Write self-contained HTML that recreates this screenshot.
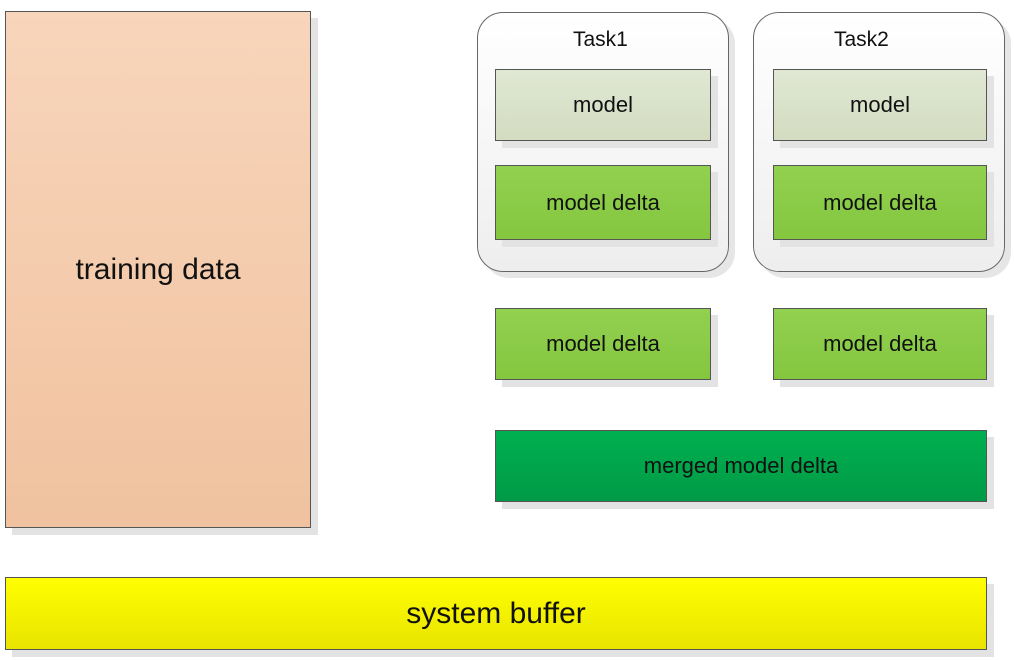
<!DOCTYPE html>
<html><head><style>
body{margin:0;width:1014px;height:660px;background:#fff;position:relative;overflow:hidden;font-family:"Liberation Sans",sans-serif;}
.b{position:absolute;box-sizing:border-box;border:1px solid #555;display:flex;align-items:center;justify-content:center;color:#111;box-shadow:7px 7px 0 #e3e3e3;}
.c{position:absolute;box-sizing:border-box;border:1px solid #666;border-radius:26px;background:linear-gradient(#fff,#eeeeee);box-shadow:6px 6px 0 #e6e6e6;}
.t{position:absolute;font-size:21px;color:#111;}
.m{background:linear-gradient(#e0e8d4,#d3dcc0);font-size:22px;}
.d{background:linear-gradient(#92d050,#84c73f);font-size:22px;}
</style></head><body>
<div class="b" style="left:5px;top:11px;width:306px;height:517px;background:linear-gradient(#f8d5bb,#f0c29f);font-size:30px;">training data</div>
<div class="c" style="left:477px;top:12px;width:252px;height:260px;"></div>
<div class="c" style="left:753px;top:12px;width:252px;height:260px;"></div>
<div class="t" style="left:573px;top:28px;">Task1</div>
<div class="t" style="left:834px;top:28px;">Task2</div>
<div class="b m" style="left:495px;top:69px;width:216px;height:72px;">model</div>
<div class="b m" style="left:773px;top:69px;width:214px;height:72px;">model</div>
<div class="b d" style="left:495px;top:165px;width:216px;height:75px;">model delta</div>
<div class="b d" style="left:773px;top:165px;width:214px;height:75px;">model delta</div>
<div class="b d" style="left:495px;top:308px;width:216px;height:72px;">model delta</div>
<div class="b d" style="left:773px;top:308px;width:214px;height:72px;">model delta</div>
<div class="b" style="left:495px;top:430px;width:492px;height:72px;background:linear-gradient(#00b050,#009a46);font-size:22px;">merged model delta</div>
<div class="b" style="left:5px;top:577px;width:982px;height:73px;background:linear-gradient(#ffff00,#e8e400);font-size:30px;">system buffer</div>
</body></html>
